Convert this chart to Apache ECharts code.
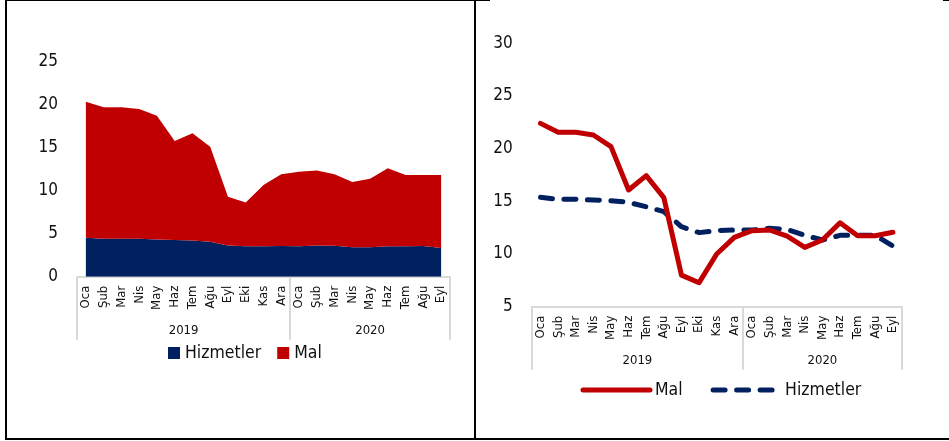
<!DOCTYPE html>
<html>
<head>
<meta charset="utf-8">
<script src="https://cdn.jsdelivr.net/npm/echarts@6/dist/echarts.min.js"></script>
<style>
html,body{margin:0;padding:0;background:#fff;}
#wrap{position:relative;width:949px;height:441px;overflow:hidden;}
#echarts1{position:absolute;left:0;top:0;width:475px;height:441px;}
#echarts2{position:absolute;left:475px;top:0;width:474px;height:441px;}
.ln{position:absolute;background:#000;pointer-events:none;}
#frame1{position:absolute;left:5px;top:-1px;width:471px;height:441px;border:2px solid #000;box-sizing:border-box;pointer-events:none;}
</style>
</head>
<body>
<div id="wrap">
  <div id="echarts1"></div>
  <div id="echarts2"></div>
  <div id="frame1"></div>
  <div class="ln" style="left:475px;top:438px;width:474px;height:2px"></div>
  <div class="ln" style="left:475px;top:-1px;width:15px;height:2px"></div>
  <div class="ln" style="left:943px;top:-1px;width:6px;height:2px"></div>
</div>
<script>
// aylar / yillar
var months = ['Oca','Şub','Mar','Nis','May','Haz','Tem','Ağu','Eyl','Eki','Kas','Ara',
              'Oca','Şub','Mar','Nis','May','Haz','Tem','Ağu','Eyl'];
var years = ['2019', '2020'];
var yearCounts = [12, 9];

// sol grafik: katkilar
var hizmetKatki = [4.53,4.42,4.42,4.42,4.34,4.26,4.22,4.07,3.64,3.53,3.53,3.57,3.53,3.64,3.60,3.41,3.41,3.53,3.53,3.57,3.33];
var malKatki = [15.82,15.27,15.27,15.08,14.38,11.52,12.45,11.05,5.66,5.11,7.13,8.33,8.67,8.72,8.30,7.59,7.99,9.07,8.29,8.25,8.49];

// sag grafik: yillik degisim
var malYillik = [22.4,21.55,21.55,21.3,20.19,16.08,17.44,15.35,8.0,7.28,10.0,11.58,12.22,12.28,11.7,10.63,11.33,12.97,11.74,11.74,12.06];
var hizmetYillik = [15.38,15.19,15.19,15.13,15.06,14.9,14.49,14.02,12.59,12.03,12.22,12.28,12.28,12.44,12.34,11.77,11.33,11.77,11.77,11.77,10.76];

var FONT = '"DejaVu Sans Condensed", "DejaVu Sans", sans-serif';
var RED = '#C00000', NAVY = '#002060', GREY = '#D9D9D9';

// yil ayiricilari ve yil etiketi konumlari
var yearBounds = [-0.5], yearCenters = [], acc = 0;
for (var i = 0; i < yearCounts.length; i++) {
  yearCenters.push(acc + (yearCounts[i] - 1) / 2);
  acc += yearCounts[i];
  yearBounds.push(acc - 0.5);
}

function xAxes() {
  return [{
    type: 'category',
    boundaryGap: true,
    data: months,
    axisLine: {lineStyle: {color: GREY, width: 2}},
    axisTick: {show: false},
    axisLabel: {rotate: 90, interval: 0, margin: 9, fontFamily: FONT, fontSize: 13, color: '#111'}
  }, {
    type: 'value',
    position: 'bottom',
    min: -0.5,
    max: months.length - 0.5,
    axisLine: {show: false},
    splitLine: {show: false},
    axisTick: {show: true, customValues: yearBounds, length: 63, lineStyle: {color: GREY, width: 2}},
    axisLabel: {
      customValues: yearCenters, margin: 47, fontFamily: FONT, fontSize: 13, color: '#111',
      formatter: function (v) {
        var k = yearCenters.indexOf(v);
        return k >= 0 ? years[k] : '';
      }
    }
  }];
}

function yAxis(min, max) {
  return {
    type: 'value', min: min, max: max, interval: 5,
    axisLine: {show: false}, axisTick: {show: false}, splitLine: {show: false},
    axisLabel: {margin: 19, fontFamily: FONT, fontSize: 17, color: '#111'}
  };
}

var myChart1 = echarts.init(document.getElementById('echarts1'));
var option1 = {
  animation: false,
  grid: {left: 77, top: 61.7, width: 373, height: 215},
  legend: {
    left: 163, top: 339,
    icon: 'rect', itemWidth: 12, itemHeight: 12, itemGap: 16,
    textStyle: {fontFamily: FONT, fontSize: 17.5, color: '#111'},
    data: ['Hizmetler', 'Mal']
  },
  xAxis: xAxes(),
  yAxis: yAxis(0, 25),
  series: [{
    name: 'Hizmetler', type: 'line', stack: 'a', symbol: 'none',
    lineStyle: {width: 0}, color: NAVY,
    areaStyle: {color: NAVY, opacity: 1},
    data: hizmetKatki
  }, {
    name: 'Mal', type: 'line', stack: 'a', symbol: 'none',
    lineStyle: {width: 0}, color: RED,
    areaStyle: {color: RED, opacity: 1},
    data: malKatki
  }]
};
myChart1.setOption(option1);

var myChart2 = echarts.init(document.getElementById('echarts2'));
var option2 = {
  animation: false,
  grid: {left: 56.7, top: 43.3, width: 370, height: 263.4},
  legend: {
    left: 100.5, top: 376,
    itemWidth: 67, itemHeight: 8, itemGap: 28,
    itemStyle: {opacity: 0},
    lineStyle: {width: 'inherit', type: 'inherit', cap: 'inherit'},
    textStyle: {fontFamily: FONT, fontSize: 17.5, color: '#111'},
    data: ['Mal', 'Hizmetler']
  },
  xAxis: xAxes(),
  yAxis: yAxis(5, 30),
  series: [{
    name: 'Hizmetler', type: 'line', symbol: 'none', color: NAVY,
    lineStyle: {width: 5, color: NAVY, type: [12, 11.5], cap: 'round', join: 'round'},
    data: hizmetYillik
  }, {
    name: 'Mal', type: 'line', symbol: 'none', color: RED,
    lineStyle: {width: 5, color: RED, cap: 'round', join: 'round'},
    data: malYillik
  }]
};
myChart2.setOption(option2);

window.addEventListener("resize", function () {
  myChart1.resize();
  myChart2.resize();
});
</script>
</body>
</html>
